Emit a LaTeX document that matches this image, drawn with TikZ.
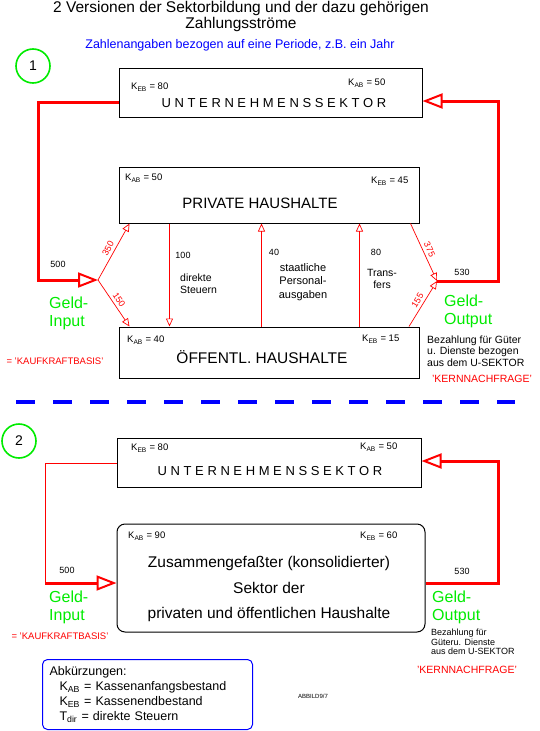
\documentclass[tikz,border=0pt]{standalone}
\usepackage{fontspec}
\setmainfont{Liberation Sans}
\definecolor{geldgreen}{RGB}{0,235,0}
\definecolor{flowred}{RGB}{255,0,0}
\definecolor{noteblue}{RGB}{0,0,255}
\usetikzlibrary{arrows.meta}

\begin{document}
\begin{tikzpicture}[x=1pt,y=-1pt,
  sector/.style={draw,line width=1pt,inner sep=0pt},
  kval/.style={anchor=west,inner sep=0pt,font=\fontsize{9.5}{10}\selectfont},
  title/.style={inner sep=0pt,align=center},
  num/.style={inner sep=0pt,font=\fontsize{9}{10}\selectfont},
  flownum/.style={num,midway,above=3pt,sloped},
  geld/.style={inner sep=0pt,align=left,anchor=west,text=geldgreen,font=\fontsize{16}{18}\selectfont},
  basis/.style={inner sep=0pt,text=flowred,font=\fontsize{9.5}{10}\selectfont},
  nummer/.style={circle,draw=geldgreen,line width=1.6pt,minimum size=34pt,inner sep=0pt,font=\fontsize{14}{14}\selectfont},
  ar/.style={-{Triangle[open,length=8pt,width=7pt]},flowred,line width=.7pt},
  bigar/.style={-{Triangle[open,length=20pt,width=15pt,line width=2pt]},flowred,line width=3pt}]
\useasboundingbox (0,0) rectangle (539,731);
\node[title,font=\fontsize{15.5}{16}\selectfont] (titel) at (241,16) {2 Versionen der Sektorbildung und der dazu gehörigen\\Zahlungsströme};
\node[title,text=noteblue,font=\fontsize{12.5}{12}\selectfont] (periode) at (240,45) {Zahlenangaben bezogen auf eine Periode, z.B. ein Jahr};
\node[nummer] (n1) at (33,66) {1};
\node[sector,minimum width=303pt,minimum height=49pt] (u1) at (270.5,92.5) {};
\node[kval] (u1kl) at (131,87) {K\textsubscript{EB} = 80};
\node[kval] (u1kr) at (348,83) {K\textsubscript{AB} = 50};
\node[title,font=\fontsize{13}{14}\selectfont] (u1t) at (274,103) {U N T E R N E H M E N S S E K T O R};
\node[sector,minimum width=300pt,minimum height=56pt] (ph) at (269.5,195) {};
\node[kval] (phkl) at (125,178) {K\textsubscript{AB} = 50};
\node[kval] (phkr) at (371,181) {K\textsubscript{EB} = 45};
\node[title,font=\fontsize{15}{15}\selectfont] (pht) at (260,203) {PRIVATE HAUSHALTE};
\node[sector,minimum width=300pt,minimum height=51pt] (oh) at (269.5,352.5) {};
\node[kval] (ohkl) at (127,340) {K\textsubscript{AB} = 40};
\node[kval] (ohkr) at (362,339) {K\textsubscript{EB} = 15};
\node[title,font=\fontsize{15.5}{15}\selectfont] (oht) at (262,357) {ÖFFENTL. HAUSHALTE};
\coordinate (kink1) at (38,280);
\coordinate (hub1) at (98,280);
\coordinate (hub2) at (437,281);
\coordinate (kink2) at (498,101);
\draw[bigar] ([yshift=-9.5pt]u1.west) -| (kink1) -- (hub1);
\draw[ar] (hub1) -- node[flownum]{350} ([xshift=10.5pt]ph.south west);
\draw[ar] (hub1) -- node[flownum]{150} ([xshift=10.5pt]oh.north west);
\draw[ar] ([xshift=50.5pt]ph.south west) -- ([xshift=50.5pt]oh.north west);
\draw[ar] ([xshift=142.5pt]oh.north west) -- ([xshift=142.5pt]ph.south west);
\draw[ar] ([xshift=240.5pt]oh.north west) -- ([xshift=240.5pt]ph.south west);
\draw[ar] ([xshift=-9.5pt]ph.south east) -- node[flownum]{375} (hub2);
\draw[ar] ([xshift=-11pt]oh.north east) -- node[flownum]{155} (hub2);
\draw[bigar] (hub2) -| (kink2) -- ([yshift=-8.5pt]u1.east);
\node[num] (in1) at (58,264) {500};
\node[num] (out1) at (462,272) {530};
\node[num] (st) at (183,255) {100};
\node[num,anchor=west,align=left,font=\fontsize{10.5}{12}\selectfont] (stt) at (180,284) {direkte\\Steuern};
\node[num] (pa) at (274,252) {40};
\node[num,align=center,font=\fontsize{11}{13.5}\selectfont] (pat) at (303,282) {staatliche\\Personal-\\ausgaben};
\node[num] (tr) at (376,252) {80};
\node[num,align=center,font=\fontsize{10.5}{12}\selectfont] (trt) at (382,279) {Trans-\\fers};
\node[geld] (gi1) at (49,313) {Geld-\\Input};
\node[geld] (go1) at (444,311) {Geld-\\Output};
\node[basis] (kb1) at (55,361) {= 'KAUFKRAFTBASIS'};
\node[num,anchor=west,align=left,font=\fontsize{10.5}{11.5}\selectfont] (bz1) at (427,351) {Bezahlung für Güter\\u. Dienste bezogen\\aus dem U-SEKTOR};
\node[basis,font=\fontsize{10.5}{11}\selectfont] (kn1) at (482,379) {'KERNNACHFRAGE'};
\draw[noteblue,line width=4pt,dash pattern=on 19pt off 18pt] (16,402) -- (515,402);
\node[nummer] (n2) at (19,441) {2};
\node[sector,minimum width=304pt,minimum height=49pt] (u2) at (269,462.5) {};
\node[kval] (u2kl) at (131,448) {K\textsubscript{EB} = 80};
\node[kval] (u2kr) at (360,447) {K\textsubscript{AB} = 50};
\node[title,font=\fontsize{13}{14}\selectfont] (u2t) at (270,471) {U N T E R N E H M E N S S E K T O R};
\node[sector,rounded corners=8pt,minimum width=308pt,minimum height=108pt] (zh) at (271,578) {};
\node[kval] (zhkl) at (128,536) {K\textsubscript{AB} = 90};
\node[kval] (zhkr) at (360,536) {K\textsubscript{EB} = 60};
\node[title,font=\fontsize{15.5}{25.5}\selectfont] (zht) at (269,589) {Zusammengefaßter (konsolidierter)\\Sektor der\\privaten und öffentlichen Haushalte};
\coordinate (kink3) at (45,583);
\coordinate (kink4) at (498,461);
\draw[flowred,line width=.8pt] ([yshift=-.5pt]u2.west) -| (kink3);
\draw[bigar] (kink3) -- ([yshift=-5pt]zh.west);
\draw[bigar] ([yshift=-5pt]zh.east) -| (kink4) -- ([yshift=1.5pt]u2.east);
\node[num] (in2) at (67,570) {500};
\node[num] (out2) at (462,571) {530};
\node[geld] (gi2) at (49,607) {Geld-\\Input};
\node[geld] (go2) at (432,607) {Geld-\\Output};
\node[basis] (kb2) at (60,636) {= 'KAUFKRAFTBASIS'};
\node[num,anchor=west,align=left,font=\fontsize{9}{9.5}\selectfont] (bz2) at (431,642) {Bezahlung für\\Güteru. Dienste\\aus dem U-SEKTOR};
\node[basis,font=\fontsize{10.5}{11}\selectfont] (kn2) at (467,670) {'KERNNACHFRAGE'};
\node[draw=noteblue,line width=1pt,rounded corners=5pt,anchor=north west,minimum width=210pt,minimum height=70pt,inner xsep=7pt,text width=196pt,align=left,font=\fontsize{12.5}{15}\selectfont] (abk) at (42,659) {Abkürzungen:\\\hspace*{10pt}K\textsubscript{AB} = Kassenanfangsbestand\\\hspace*{10pt}K\textsubscript{EB} = Kassenendbestand\\\hspace*{10pt}T\textsubscript{dir} = direkte Steuern};
\node[num,font=\fontsize{6}{7}\selectfont] (abb) at (313,696) {ABBILD9/7};
\end{tikzpicture}
\end{document}
